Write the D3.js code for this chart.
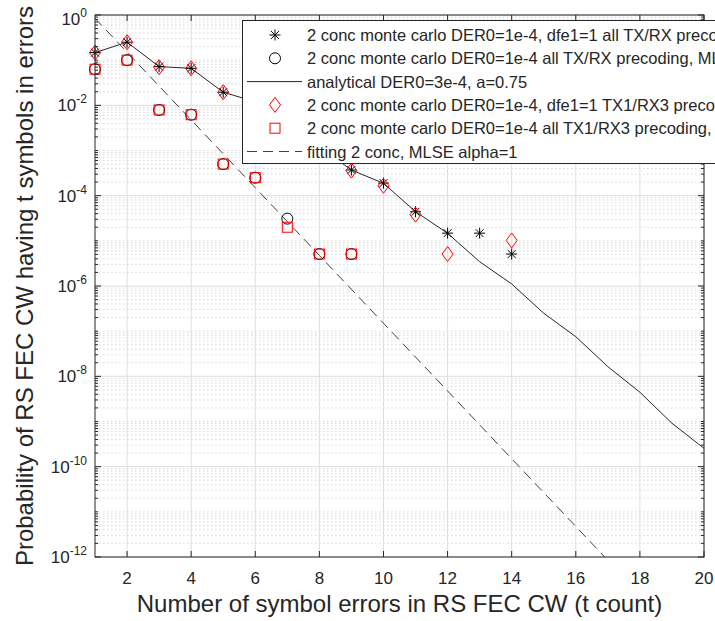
<!DOCTYPE html>
<html>
<head>
<meta charset="utf-8">
<script src="https://cdn.jsdelivr.net/npm/d3@7"></script>
<style>
  html, body { margin: 0; padding: 0; background: #fff; overflow: hidden; }
  svg { display: block; font-family: "Liberation Sans", Arial, Helvetica, sans-serif; }
</style>
</head>
<body>
<svg id="chart" width="715" height="621"></svg>
<script>
// ---- data: probability of an RS FEC codeword having t symbols in error ----
// 2 conc monte carlo DER0=1e-4, dfe1=1 all TX/RX precoding (black asterisks)
const starT = [1, 2, 3, 4, 5, 6, 7, 8, 9, 10, 11, 12, 13, 14];
const starP = [0.147, 0.25, 0.072, 0.066, 0.0195, 0.012, 0.0039, 0.0012, 3.7e-4, 1.9e-4, 4.4e-5, 1.48e-5, 1.48e-5, 5.1e-6];

// 2 conc monte carlo DER0=1e-4 all TX/RX precoding, MLSE (black circles)
const circleT = [1, 2, 3, 4, 5, 6, 7, 8, 9];
const circleP = [0.063, 0.1, 0.0079, 0.0062, 5.0e-4, 2.5e-4, 3.1e-5, 5.1e-6, 5.1e-6];

// analytical DER0=3e-4, a=0.75 (solid line)
const analyticT = [1, 2, 3, 4, 5, 6, 7, 8, 9, 10, 11, 12, 13, 14, 15, 16, 17, 18, 19, 20];
const analyticP = [0.147, 0.25, 0.072, 0.066, 0.0195, 0.012, 0.0039, 0.0012, 3.7e-4, 1.88e-4,
                   4.42e-5, 1.47e-5, 3.45e-6, 1.11e-6, 2.49e-7, 7.55e-8, 1.64e-8, 4.44e-9, 9.14e-10, 2.55e-10];

// 2 conc monte carlo DER0=1e-4, dfe1=1 TX1/RX3 precoding (red diamonds)
const diamondT = [1, 2, 3, 4, 5, 6, 7, 8, 9, 10, 11, 12, 14];
const diamondP = [0.147, 0.25, 0.07, 0.066, 0.0195, 0.012, 0.0039, 0.0012, 3.6e-4, 1.65e-4, 3.8e-5, 5.1e-6, 1.02e-5];

// 2 conc monte carlo DER0=1e-4 all TX1/RX3 precoding, MLSE (red squares)
const squareT = [1, 2, 3, 4, 5, 6, 7, 8, 9];
const squareP = [0.063, 0.1, 0.0079, 0.0062, 5.0e-4, 2.5e-4, 2.0e-5, 5.1e-6, 5.1e-6];

// fitting 2 conc, MLSE alpha=1 (dashed line)
const fitT = [1, 2, 3, 4, 5, 6, 7, 8, 9, 10, 11, 12, 13, 14, 15, 16, 17];
const fitP = [0.845, 0.150, 0.0267, 4.75e-3, 8.45e-4, 1.50e-4, 2.67e-5, 4.75e-6, 8.45e-7,
              1.50e-7, 2.67e-8, 4.75e-9, 8.45e-10, 1.50e-10, 2.67e-11, 4.75e-12, 8.45e-13];

// axes ticks
const xTicks = [2, 4, 6, 8, 10, 12, 14, 16, 18, 20];
const yTickExponents = [0, -2, -4, -6, -8, -10, -12];

const legendLabels = [
  "2 conc monte carlo DER0=1e-4, dfe1=1 all TX/RX precoding",
  "2 conc monte carlo DER0=1e-4 all TX/RX precoding, MLSE",
  "analytical DER0=3e-4, a=0.75",
  "2 conc monte carlo DER0=1e-4, dfe1=1 TX1/RX3 precoding",
  "2 conc monte carlo DER0=1e-4 all TX1/RX3 precoding, MLSE",
  "fitting 2 conc, MLSE alpha=1"
];

// ---- layout ----
const svg = d3.select("#chart");
const plot = { left: 95, right: 704, top: 15, bottom: 557 };
const axisColor = "#262626";
const red = "#ff0000";

const x = d3.scaleLinear().domain([1, 20]).range([plot.left, plot.right]);
const y = d3.scaleLog().domain([1e-12, 1]).range([plot.bottom, plot.top]);

svg.append("defs").append("clipPath").attr("id", "plot-clip")
  .append("rect")
  .attr("x", plot.left).attr("y", plot.top)
  .attr("width", plot.right - plot.left).attr("height", plot.bottom - plot.top);

// minor log values (everything that is not a labelled even decade)
const minorY = [];
for (let k = -12; k <= -1; k++) {
  for (let m = 1; m <= 9; m++) {
    if (m === 1 && k % 2 === 0) continue;
    minorY.push(m * Math.pow(10, k));
  }
}
const majorY = yTickExponents.map(e => Math.pow(10, e));

// ---- grid ----
const grid = svg.append("g");
grid.selectAll("line.minor").data(minorY).join("line")
  .attr("x1", plot.left).attr("x2", plot.right)
  .attr("y1", d => y(d)).attr("y2", d => y(d))
  .attr("stroke", "#cfcfcf").attr("stroke-width", 0.8)
  .attr("stroke-dasharray", "1.5,2.5");
grid.selectAll("line.majy").data(majorY).join("line")
  .attr("x1", plot.left).attr("x2", plot.right)
  .attr("y1", d => y(d)).attr("y2", d => y(d))
  .attr("stroke", "#dedede").attr("stroke-width", 1);
grid.selectAll("line.majx").data(xTicks).join("line")
  .attr("x1", d => x(d)).attr("x2", d => x(d))
  .attr("y1", plot.top).attr("y2", plot.bottom)
  .attr("stroke", "#dedede").attr("stroke-width", 1);

// ---- lines ----
const lineGen = d3.line().x(d => x(d[0])).y(d => y(d[1]));
const lines = svg.append("g").attr("clip-path", "url(#plot-clip)");
lines.append("path")
  .datum(analyticT.map((t, i) => [t, analyticP[i]]))
  .attr("d", lineGen).attr("fill", "none")
  .attr("stroke", "#262626").attr("stroke-width", 1);
lines.append("path")
  .datum(fitT.map((t, i) => [t, fitP[i]]))
  .attr("d", lineGen).attr("fill", "none")
  .attr("stroke", "#404040").attr("stroke-width", 1)
  .attr("stroke-dasharray", "10,6");

// ---- marker shapes ----
function drawStar(g, cx, cy) {
  const r = 5.5, d = r * 0.72;
  const p = `M${cx - r},${cy}H${cx + r}M${cx},${cy - r}V${cy + r}` +
            `M${cx - d},${cy - d}L${cx + d},${cy + d}M${cx - d},${cy + d}L${cx + d},${cy - d}`;
  g.append("path").attr("d", p).attr("stroke", "#000").attr("stroke-width", 1).attr("fill", "none");
}
function drawCircle(g, cx, cy) {
  g.append("circle").attr("cx", cx).attr("cy", cy).attr("r", 5.5)
    .attr("fill", "none").attr("stroke", "#000").attr("stroke-width", 1);
}
function drawDiamond(g, cx, cy) {
  const w = 5.5, h = 7.5;
  g.append("path").attr("d", `M${cx},${cy - h}L${cx + w},${cy}L${cx},${cy + h}L${cx - w},${cy}Z`)
    .attr("fill", "none").attr("stroke", red).attr("stroke-width", 1);
}
function drawSquare(g, cx, cy) {
  const s = 5;
  g.append("rect").attr("x", cx - s).attr("y", cy - s).attr("width", 2 * s).attr("height", 2 * s)
    .attr("fill", "none").attr("stroke", red).attr("stroke-width", 1);
}

const marks = svg.append("g");
starT.forEach((t, i) => drawStar(marks, x(t), y(starP[i])));
circleT.forEach((t, i) => drawCircle(marks, x(t), y(circleP[i])));
diamondT.forEach((t, i) => drawDiamond(marks, x(t), y(diamondP[i])));
squareT.forEach((t, i) => drawSquare(marks, x(t), y(squareP[i])));

// ---- axes box and ticks ----
const ax = svg.append("g").attr("stroke", axisColor).attr("stroke-width", 1);
ax.append("rect")
  .attr("x", plot.left).attr("y", plot.top)
  .attr("width", plot.right - plot.left).attr("height", plot.bottom - plot.top)
  .attr("fill", "none");
const majLen = 6, minLen = 3;
xTicks.forEach(t => {
  const px = x(t);
  ax.append("line").attr("x1", px).attr("x2", px).attr("y1", plot.bottom).attr("y2", plot.bottom - majLen);
  ax.append("line").attr("x1", px).attr("x2", px).attr("y1", plot.top).attr("y2", plot.top + majLen);
});
majorY.forEach(v => {
  const py = y(v);
  ax.append("line").attr("x1", plot.left).attr("x2", plot.left + majLen).attr("y1", py).attr("y2", py);
  ax.append("line").attr("x1", plot.right).attr("x2", plot.right - majLen).attr("y1", py).attr("y2", py);
});
minorY.forEach(v => {
  const py = y(v);
  ax.append("line").attr("x1", plot.left).attr("x2", plot.left + minLen).attr("y1", py).attr("y2", py);
  ax.append("line").attr("x1", plot.right).attr("x2", plot.right - minLen).attr("y1", py).attr("y2", py);
});

// ---- tick labels ----
const labels = svg.append("g").attr("fill", axisColor);
xTicks.forEach(t => {
  labels.append("text").attr("x", x(t)).attr("y", 583.5)
    .attr("text-anchor", "middle").attr("font-size", 17).text(t);
});
yTickExponents.forEach(e => {
  const cy = Math.max(y(Math.pow(10, e)), plot.top + 4);
  const txt = labels.append("text").attr("x", 87).attr("y", cy + 6)
    .attr("text-anchor", "end").attr("font-size", 17);
  txt.append("tspan").text("10");
  txt.append("tspan").attr("dy", -8).attr("font-size", 12).text(e);
});

// ---- axis titles ----
labels.append("text")
  .attr("x", (plot.left + plot.right) / 2).attr("y", 612)
  .attr("text-anchor", "middle").attr("font-size", 24)
  .text("Number of symbol errors in RS FEC CW (t count)");
labels.append("text")
  .attr("transform", `translate(33,${(plot.top + plot.bottom) / 2}) rotate(-90)`)
  .attr("text-anchor", "middle").attr("font-size", 24)
  .text("Probability of RS FEC CW having t symbols in errors");

// ---- legend ----
const leg = svg.append("g");
leg.append("rect")
  .attr("x", 242.5).attr("y", 20.5).attr("width", 520).attr("height", 143)
  .attr("fill", "#fff").attr("stroke", axisColor).attr("stroke-width", 1);
const rowY = i => 35 + i * 23.3;
const mx = 275;
drawStar(leg, mx, rowY(0));
drawCircle(leg, mx, rowY(1));
leg.append("line").attr("x1", 247).attr("x2", 302).attr("y1", rowY(2)).attr("y2", rowY(2))
  .attr("stroke", "#262626").attr("stroke-width", 1);
drawDiamond(leg, mx, rowY(3));
drawSquare(leg, mx, rowY(4));
leg.append("line").attr("x1", 247).attr("x2", 302).attr("y1", rowY(5)).attr("y2", rowY(5))
  .attr("stroke", "#404040").attr("stroke-width", 1).attr("stroke-dasharray", "10,6");
legendLabels.forEach((s, i) => {
  leg.append("text").attr("x", 307).attr("y", rowY(i) + 6)
    .attr("font-size", 16.5).attr("fill", axisColor).text(s);
});
</script>
</body>
</html>
